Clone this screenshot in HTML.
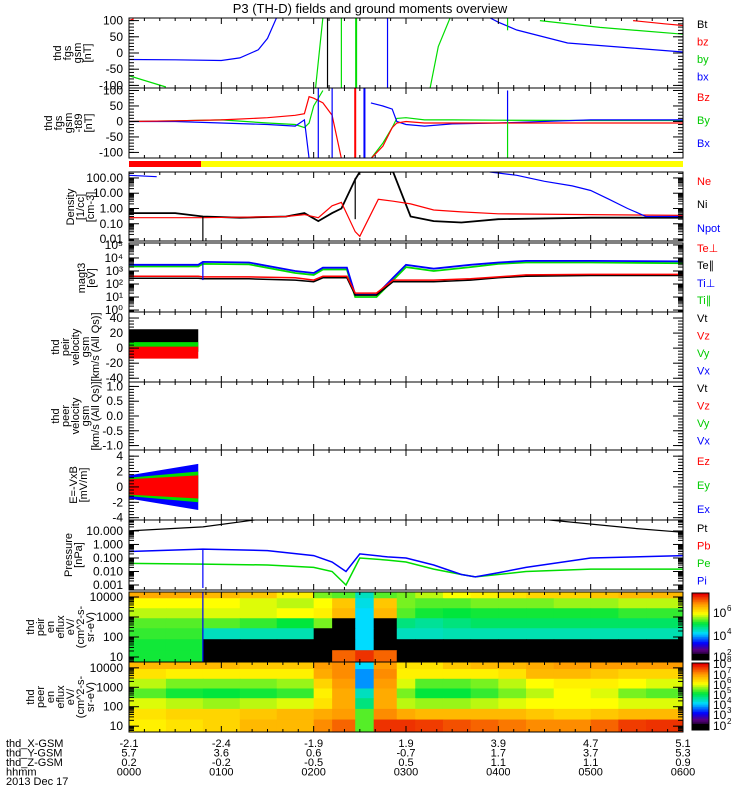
<!DOCTYPE html>
<html><head><meta charset="utf-8"><style>
body{margin:0;background:#fff;}
svg{display:block;font-family:"Liberation Sans",sans-serif;}
</style></head><body>
<svg id="chart" width="750" height="800" xmlns="http://www.w3.org/2000/svg">
<text x="370" y="13" font-size="13" text-anchor="middle">P3 (TH-D) fields and ground moments overview</text>
</svg>
<script>
// ---- data (time in hours, values in panel units) ----
const timeTicks = ["0000","0100","0200","0300","0400","0500","0600"];
const xGsm = ["-2.1","-2.4","-1.9","1.9","3.9","4.7","5.1"];
const yGsm = ["5.7","3.6","0.6","-0.7","1.7","3.7","5.3"];
const zGsm = ["0.2","-0.2","-0.5","0.5","1.1","1.1","0.9"];
// FGS gsm
const fgsBxT = [0,0.5,1.0,1.2,1.4,1.5,1.6,null,3.9,4.0,4.2,4.75,5.46,6];
const fgsBxV = [-20,-21,-23,-15,10,45,110,null,110,95,71,31,15,3];
const fgsByT = [0,0.4,null,2.02,2.1,null,3.26,3.35,3.48,null,4.45,5.1,6];
const fgsByV = [-70,-105,null,-110,110,null,-110,20,110,null,100,79,58];
const fgsBzT = [0,0.05,null,5.46,5.8,6];
const fgsBzV = [100,105,null,100,90,85];
// FGS gsm-t89
const t89T = [0,0.5,1.0,1.5,1.8,1.9,1.95,2.0,2.1,2.2,2.3,null,2.62,2.75,2.85,2.9,3.0,3.2,3.5,4,5,6];
const t89Bz = [0,2,5,12,20,25,80,75,60,20,-120,null,-120,-80,-20,-5,0,-5,-5,-5,-5,-5];
const t89By = [0,2,5,-5,-10,-20,-5,50,100,null,null,null,-120,-70,-20,10,12,5,5,4,3,3];
const t89Bx = [0,0,-5,-10,-15,5,-120,null,null,null,null,null,60,50,40,0,-10,-15,-8,-5,5,5];
// density
const denT = [0,0.5,0.8,1.2,1.7,1.9,2.05,2.2,2.3,2.45,2.5,2.7,2.86,3.05,3.3,3.6,4,5,6];
const denNi = [0.5,0.5,0.3,0.25,0.3,0.5,0.15,0.5,1.0,80,250,250,250,0.3,0.15,0.12,0.2,0.25,0.25];
const denNe = [0.25,0.25,0.25,0.27,0.3,0.4,0.25,1.5,2.5,0.03,0.015,4,3,2,0.8,0.6,0.45,0.4,0.35];
const npotT = [0,0.3,null,3.9,4.2,4.5,4.8,5.0,5.2,5.4,5.6,6];
const npotV = [150,120,null,250,150,60,30,15,4,1,0.3,0.3];
// temperatures
const tmpT = [0,0.75,0.8,1.3,1.8,2.0,2.1,2.36,2.45,2.68,2.86,3.0,3.3,3.7,4.0,4.3,5,6];
const tiPerp = [3000,3000,5000,4500,1000,700,1800,1800,15,15,300,3000,1500,3000,4500,6000,6000,5500];
const tiPar = [2200,2200,3500,3200,700,500,1300,1300,10,10,200,2000,1000,2000,3500,4500,4500,4000];
const tePerp = [400,400,350,350,300,200,400,400,20,20,200,200,200,250,350,500,550,550];
const tePar = [280,280,250,250,200,150,300,300,14,14,150,150,150,200,300,400,450,450];
// peir velocity envelopes (t 0..0.75)
const velT = [0,0.75];
const vtHi = [25,25]; const vtLo = [-5,-5];
const vyHi = [8,8]; const vyLo = [-4,-4];
const vzHi = [2,2]; const vzLo = [-14,-14];
// E envelopes
const eT = [0,0.75];
const exHi = [1.5,3]; const exLo = [-1.5,-3];
const eyHi = [1.2,2]; const eyLo = [-1.2,-2];
const ezHi = [1,1.5]; const ezLo = [-1,-1.5];
// pressure
const prT = [0,0.8,1.5,2.0,2.2,2.35,2.5,2.8,3.0,3.3,3.6,3.75,4.0,4.3,5,6];
const prPi = [0.3,0.45,0.35,0.15,0.05,0.01,0.2,0.12,0.1,0.03,0.006,0.004,0.008,0.02,0.1,0.15];
const prPe = [0.04,0.035,0.03,0.02,0.01,0.001,0.1,0.07,0.05,0.015,0.006,0.004,0.006,0.01,0.015,0.015];
const ptT = [0,0.8,1.4,null,4.5,5.5,6];
const ptV = [10,20,70,null,70,15,8];
// spectrograms: time bin edges (h), energy rows (eV) from high to low, values 0..1 colour index
const specEdges = [0,0.4,0.8,1.2,1.6,2.0,2.2,2.45,2.65,2.9,3.1,3.4,3.7,4.0,4.3,4.6,5.0,5.3,5.6,6.0];
const specE = [15000,5000,1500,500,150,40,12];
const peirSpec = [
[.82,.82,.8,.78,.72,.62,.6,.45,.6,.62,.66,.7,.72,.74,.76,.76,.78,.8,.8],
[.7,.7,.7,.68,.66,.7,.78,.42,.78,.62,.6,.6,.62,.62,.62,.64,.64,.66,.66],
[.66,.66,.68,.68,.7,.72,.8,.4,.8,.6,.56,.55,.56,.56,.56,.56,.56,.58,.58],
[.6,.6,.6,.58,.55,.62,.03,.4,.03,.5,.48,.5,.52,.52,.52,.52,.52,.52,.52],
[.58,.58,.45,.46,.46,.03,.03,.4,.03,.45,.45,.46,.46,.46,.46,.46,.46,.46,.46],
[.56,.56,.03,.03,.03,.03,.03,.4,.03,.03,.03,.03,.03,.03,.03,.03,.03,.03,.03],
[.56,.56,.03,.03,.03,.03,.9,.95,.9,.03,.03,.03,.03,.03,.03,.03,.03,.03,.03]];
const peerSpec = [
[.8,.8,.8,.78,.78,.84,.86,.4,.84,.74,.74,.78,.8,.8,.82,.84,.84,.84,.84],
[.74,.72,.72,.72,.72,.82,.86,.35,.86,.72,.72,.72,.72,.74,.8,.8,.78,.76,.76],
[.66,.62,.62,.62,.64,.76,.84,.35,.84,.68,.6,.6,.62,.66,.7,.72,.72,.7,.68],
[.6,.56,.55,.56,.58,.72,.82,.45,.82,.62,.55,.55,.58,.62,.66,.7,.68,.62,.6],
[.68,.66,.64,.66,.68,.74,.82,.5,.82,.66,.64,.64,.66,.68,.7,.7,.7,.68,.68],
[.74,.76,.76,.78,.8,.82,.84,.6,.86,.82,.8,.8,.8,.8,.78,.76,.78,.8,.8],
[.72,.74,.76,.8,.8,.86,.9,.6,.95,.95,.94,.92,.9,.88,.86,.86,.9,.94,.95]];

// ---- layout ----
const NS="http://www.w3.org/2000/svg";
const svg=document.getElementById('chart');
const X0=129,X1=683;
const xs=t=>X0+(t/6)*(X1-X0);
function el(tag,attrs,parent){const e=document.createElementNS(NS,tag);for(const k in attrs)e.setAttribute(k,attrs[k]);(parent||svg).appendChild(e);return e;}
function txt(s,x,y,attrs){const e=el('text',Object.assign({x:x,y:y,'font-size':11},attrs||{}));e.textContent=s;return e;}
const panels={};
function panel(id,top,bot,min,max,log){
  const p={top,bot,min,max,log};
  p.y=v=>{let u=log?Math.log10(v):v;return bot-(u-min)/(max-min)*(bot-top);};
  const cp=el('clipPath',{id:'clip-'+id});el('rect',{x:X0,y:top,width:X1-X0,height:bot-top},cp);
  p.g=el('g',{'clip-path':'url(#clip-'+id+')'});
  
  
  panels[id]=p;return p;
}
function frame(p,ticks,labels,name){
  const g=el('g',{});
  
  
  el('rect',{x:X0,y:p.top,width:X1-X0,height:p.bot-p.top,fill:'none',stroke:'#000','stroke-width':1},g);
  for(let m=0;m<=36;m++){const x=xs(m/6);const L=m%6==0?6:3;
    el('line',{x1:x,x2:x,y1:p.top,y2:p.top+L,stroke:'#000'},g);el('line',{x1:x,x2:x,y1:p.bot,y2:p.bot-L,stroke:'#000'},g);}
  ticks.forEach((v,i)=>{const y=p.y(v);
    el('line',{x1:X0,x2:X0+10,y1:y,y2:y,stroke:'#000'},g);el('line',{x1:X1,x2:X1-10,y1:y,y2:y,stroke:'#000'},g);
    txt(labels[i],123,y+4,{'text-anchor':'end','font-size':12});});
  if(p.log){for(let d=Math.floor(p.min);d<p.max;d++)for(let k=2;k<10;k++){const v=k*Math.pow(10,d);const y=p.y(v);if(y<p.top||y>p.bot)continue;
    el('line',{x1:X0,x2:X0+5,y1:y,y2:y,stroke:'#000'},g);el('line',{x1:X1,x2:X1-5,y1:y,y2:y,stroke:'#000'},g);}}
  else{const st=(ticks[0]-ticks[1])/5;for(let v=ticks[ticks.length-1];v<=ticks[0];v+=st){const y=p.y(v);
    el('line',{x1:X0,x2:X0+5,y1:y,y2:y,stroke:'#000'},g);el('line',{x1:X1,x2:X1-5,y1:y,y2:y,stroke:'#000'},g);}}
}
function ylabel(lines,cx,cy,name){const g=el('g',{transform:'translate('+cx+','+cy+') rotate(-90)'});
  
  const n=lines.length;lines.forEach((s,i)=>{const t=txt(s,0,(i-(n-1)/2)*10+4,{'text-anchor':'middle','font-size':11});g.appendChild(t);});}
function legendAt(items,ys,name){items.forEach((it,i)=>{const t=txt(it[0],697,ys[i],{fill:it[1],'font-size':11});
  });}
function legend(items,y0,dy,name){legendAt(items,items.map((_,i)=>y0+i*dy),name);}
function line(p,T,V,color,name,w){let d='',pen=false;T.forEach((t,i)=>{const v=V[i];if(t===null||v===null||v===undefined){pen=false;return;}
  const y=p.y(v);d+=(pen?'L':'M')+xs(t).toFixed(1)+' '+y.toFixed(1);pen=true;});
  const e=el('path',{d:d,fill:'none',stroke:color,'stroke-width':w||1.2},p.g);
  }
function vline(p,t,v1,v2,color,name,w){const e=el('line',{x1:xs(t),x2:xs(t),y1:p.y(v1),y2:p.y(v2),stroke:color,'stroke-width':w||1.2},p.g);
  }
function band(p,T,Hi,Lo,color,name){let d='M';T.forEach((t,i)=>{d+=xs(t)+' '+p.y(Hi[i])+' L';});
  for(let i=T.length-1;i>=0;i--)d+=xs(T[i])+' '+p.y(Lo[i])+(i?' L':'');d+='Z';
  const e=el('path',{d:d,fill:color},p.g);}
function cmap(v){if(v<0.08)return '#000';const stops=[[0.08,[40,0,60]],[.15,[90,0,130]],[.25,[0,0,255]],[.4,[0,220,255]],[.55,[0,230,60]],[.7,[255,255,0]],[.85,[255,150,0]],[1,[230,0,0]]];
  for(let i=1;i<stops.length;i++)if(v<=stops[i][0]){const a=stops[i-1],b=stops[i],f=(v-a[0])/(b[0]-a[0]);
    return 'rgb('+a[1].map((c,k)=>Math.round(c+(b[1][k]-c)*f)).join(',')+')';}return 'rgb(230,0,0)';}
function spec(p,grid,name){
  grid.forEach((row,r)=>{const e=specE[r];const yT=r==0?p.top:p.y(Math.sqrt(e*specE[r-1]));const yB=r==grid.length-1?p.bot:p.y(Math.sqrt(e*specE[r+1]));
    row.forEach((v,c)=>{const x=xs(specEdges[c]);const rc=el('rect',{x:x,y:yT,width:xs(specEdges[c+1])-x+0.5,height:yB-yT+0.5,fill:cmap(v)},p.g);
      });});}

// ---- panels ----
let p=panel('fgs',18,88,-108,108,false);
line(p,fgsBxT,fgsBxV,'#0000ff','fgs-bx-line');line(p,fgsByT,fgsByV,'#00dd00','fgs-by-line');line(p,fgsBzT,fgsBzV,'#ff0000','fgs-bz-line');
vline(p,2.15,-110,110,'#000','fgs-bt-spike');vline(p,2.3,-110,110,'#00dd00','fgs-by-spike');vline(p,2.46,-110,110,'#00dd00','fgs-by-spike2',2);
vline(p,2.8,-110,110,'#0000ff','fgs-bx-spike');vline(p,4.1,110,70,'#00dd00','fgs-by-step');
frame(p,[100,50,0,-50,-100],['100','50','0','-50','-100'],'fgs');
ylabel(['thd','fgs','gsm','[nT]'],72,53,'fgs-y-title');legend([['Bt','#000'],['bz','#f00'],['by','#0c0'],['bx','#00f']],28,17.5,'fgs');

p=panel('t89',88,158,-118,108,false);
line(p,t89T,t89By,'#00dd00','t89-by-line');line(p,t89T,t89Bx,'#0000ff','t89-bx-line');line(p,t89T,t89Bz,'#ff0000','t89-bz-line');
vline(p,2.45,-120,110,'#ff0000','t89-bz-spike',2);vline(p,2.05,-120,110,'#0000ff','t89-bx-spike1');vline(p,2.2,-120,110,'#0000ff','t89-bx-spike2');
vline(p,2.55,-120,110,'#0000ff','t89-bx-rise',2);
vline(p,4.1,100,0,'#0000ff','t89-bx-spike');vline(p,4.1,0,-120,'#00dd00','t89-by-spike');
frame(p,[100,50,0,-50,-100],['100','50','0','-50','-100'],'t89');
ylabel(['thd','fgs','gsm','-t89','[nT]'],68,123,'t89-y-title');legend([['Bz','#f00'],['By','#0c0'],['Bx','#00f']],101,23,'t89');

const bar=el('g',{});
el('rect',{x:X0,y:161,width:xs(0.78)-X0,height:6,fill:'#ff0000'},bar);el('rect',{x:xs(0.78),y:161,width:X1-xs(0.78),height:6,fill:'#ffff00'},bar);

p=panel('density',172,241,-2.13,2.39,true);
line(p,denT,denNi,'#000','density-ni-line',1.8);line(p,denT,denNe,'#ff0000','density-ne-line');line(p,npotT,npotV,'#0000ff','density-npot-line');
vline(p,0.8,0.3,0.008,'#000','density-ni-spike');vline(p,2.45,0.2,100,'#000','density-ni-jump');
frame(p,[100,10,1,0.1,0.01],['100.00','10.00','1.00','0.10','0.01'],'density');
ylabel(['Density','[1/cc]','[cm-3]'],80,207,'density-y-title');
legendAt([['Ne','#f00'],['Ni','#000'],['Npot','#00f'],['Te⊥','#f00'],['Te∥','#000'],['Ti⊥','#00f'],['Ti∥','#0c0']],[185,208,232,252,269,287,304],'density');

p=panel('temp',243,312,-0.15,5.15,true);
line(p,tmpT,tiPar,'#00dd00','temp-ti-par-line',1.8);line(p,tmpT,tiPerp,'#0000ff','temp-ti-perp-line',1.8);
line(p,tmpT,tePar,'#000','temp-te-par-line',1.5);line(p,tmpT,tePerp,'#ff0000','temp-te-perp-line',1.5);
vline(p,0.8,5000,200,'#0000ff','temp-spike');
frame(p,[1e5,1e4,1e3,100,10,1],['10⁵','10⁴','10³','10²','10¹','10⁰'],'temp');
ylabel(['magt3','[eV]'],86,278,'temp-y-title');

p=panel('peirvel',312,382,-45,48,false);
band(p,velT,vtHi,vtLo,'#000','peir-vt-band');band(p,velT,vyHi,vyLo,'#00dd00','peir-vy-band');band(p,velT,vzHi,vzLo,'#ff0000','peir-vz-band');
frame(p,[40,20,0,-20,-40],['40','20','0','-20','-40'],'peirvel');
ylabel(['thd','peir','velocity','gsm','[km/s (All Qs)]'],75,347,'peir-velocity-y-title');
legend([['Vt','#000'],['Vz','#f00'],['Vy','#0c0'],['Vx','#00f']],322,17.5,'peirvel');

p=panel('peervel',382,450,-1.15,1.15,false);
frame(p,[1,0.5,0,-0.5,-1],['1.0','0.5','0.0','-0.5','-1.0'],'peervel');
ylabel(['thd','peer','velocity','gsm','[km/s (All Qs)]'],75,416,'peer-velocity-y-title');
legend([['Vt','#000'],['Vz','#f00'],['Vy','#0c0'],['Vx','#00f']],392,17.5,'peervel');

p=panel('efield',450,520,-4.3,4.8,false);
band(p,eT,exHi,exLo,'#0000ff','ex-band');band(p,eT,eyHi,eyLo,'#00dd00','ey-band');band(p,eT,ezHi,ezLo,'#ff0000','ez-band');
frame(p,[4,2,0,-2,-4],['4','2','0','-2','-4'],'efield');
ylabel(['E=-VxB','[mV/m]'],78,485,'efield-y-title');legend([['Ez','#f00'],['Ey','#0c0'],['Ex','#00f']],465,24,'efield');

p=panel('pressure',520,590,-3.37,1.81,true);
line(p,ptT,ptV,'#000','pressure-pt-line');line(p,prT,prPe,'#00dd00','pressure-pe-line',1.5);line(p,prT,prPi,'#0000ff','pressure-pi-line',1.5);
vline(p,0.8,0.4,0.0006,'#0000ff','pressure-pi-spike');
frame(p,[10,1,0.1,0.01,0.001],['10.000','1.000','0.100','0.010','0.001'],'pressure');
ylabel(['Pressure','[nPa]'],73,555,'pressure-y-title');
legend([['Pt','#000'],['Pb','#f00'],['Pe','#0c0'],['Pi','#00f']],532,17.5,'pressure');

p=panel('peirspec',592,662,0.75,4.25,true);spec(p,peirSpec,'peir-spectrogram');vline(p,0.8,20000,5,'#0000ff','peir-spec-spike');
frame(p,[10000,1000,100,10],['10000','1000','100','10'],'peirspec');
ylabel(['thd','peir','en','eflux','eV/','(cm^2-s-','sr-eV)'],60,627,'peir-spectrogram-y-title');
p=panel('peerspec',662,732,0.7,4.3,true);spec(p,peerSpec,'peer-spectrogram');
frame(p,[10000,1000,100,10],['10000','1000','100','10'],'peerspec');
ylabel(['thd','peer','en','eflux','eV/','(cm^2-s-','sr-eV)'],60,697,'peer-spectrogram-y-title');

// colorbars
function cbar(top,bot,labels,name){const g=el('g',{});
  const n=40;for(let i=0;i<n;i++){el('rect',{x:692,y:bot-(i+1)*(bot-top)/n,width:17,height:(bot-top)/n+0.5,fill:cmap(i/(n-1))},g);}
  el('rect',{x:692,y:top,width:17,height:bot-top,fill:'none',stroke:'#000'},g);
  labels.forEach(l=>{const t=txt('10',713,l[1],{'font-size':12});g.appendChild(t);const s=txt(l[0],727,l[1]-6,{'font-size':8});g.appendChild(s);});}
cbar(593,660,[['6',617],['4',640],['2',661]],'peir-colorbar');
cbar(663,730,[['8',668],['7',679],['6',689],['5',699],['4',709],['3',719],['2',730]],'peer-colorbar');

// bottom axis labels
const rows=[['thd_X-GSM',xGsm],['thd_Y-GSM',yGsm],['thd_Z-GSM',zGsm],['hhmm',timeTicks]];
rows.forEach((r,i)=>{const y=747+i*9.5;const t=txt(r[0],6,y,{'font-size':11});
  r[1].forEach((v,k)=>{const s=txt(v,xs(k),y,{'text-anchor':'middle','font-size':11});});});
const dt=txt('2013 Dec 17',6,785,{'font-size':11});
</script>
</body></html>
